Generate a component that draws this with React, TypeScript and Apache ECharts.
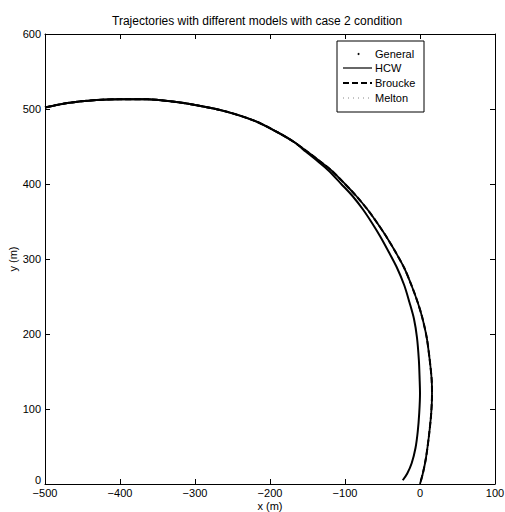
import React, { useEffect, useRef } from "react";
import * as echarts from "echarts";

// Shared upper-left arc (identical for all models), x increasing
const commonArc: [number, number][] = [
  [-500, 502], [-470, 508], [-431, 512], [-400, 513], [-364, 513], [-330, 510],
  [-298, 505], [-260, 497], [-220, 484], [-190, 469], [-168, 456],
];

// HCW trajectory (inner curve) lower part
const hcwTail: [number, number][] = [
  [-152, 443], [-136, 430], [-122, 418], [-105, 400], [-90, 384], [-76, 366],
  [-64, 348], [-53, 330], [-42, 310], [-31, 289], [-21, 265], [-14, 242],
  [-8, 220], [-4, 195], [-1.5, 165], [-0.5, 140], [0, 121], [-1, 95], [-3, 70],
  [-6, 48], [-11, 28], [-17, 14], [-23, 5],
];

// General / Broucke / Melton trajectory (outer curve) lower part
const generalTail: [number, number][] = [
  [-150, 443], [-133, 430], [-118, 418], [-100, 400], [-85, 384], [-70, 366],
  [-57, 348], [-45, 330], [-33, 310], [-21, 288], [-11, 264], [-3, 242],
  [3, 222], [9, 195], [13, 165], [15.5, 140], [16, 121], [15, 95], [12, 65],
  [8, 35], [4, 15], [0, 0],
];

const hcwData = [...commonArc, ...hcwTail];
const generalData = [...commonArc, ...generalTail];
const brouckeData = [...commonArc, ...generalTail];
const meltonData = [...commonArc, ...generalTail];

const legendNames = ["General", "HCW", "Broucke", "Melton"];

const FONT = "'Liberation Sans', Arial, Helvetica, sans-serif";

export default function App() {
  const ref = useRef<HTMLDivElement>(null);
  useEffect(() => {
    document.body.style.margin = "0";
    if (!ref.current) return;
    const chart = echarts.init(ref.current, null, { renderer: "svg" });
    const fmt = (v: number) => (v < 0 ? "\u2212" + Math.abs(v) : String(v));
    const axisCommon = {
      axisLine: { show: true, onZero: false, lineStyle: { color: "#000", width: 1 } },
      axisTick: { show: true, inside: true, length: 5, lineStyle: { color: "#000" } },
      splitLine: { show: false },
    };
    const legX = 337, legY = 41, legW = 87, legH = 71;
    const rowY = [54, 68, 83, 98];
    const lineX1 = 343, lineX2 = 372, textX = 375;
    const legendGraphics: any[] = [
      { type: "rect", shape: { x: legX, y: legY, width: legW, height: legH }, style: { fill: "#fff", stroke: "#000", lineWidth: 1 }, z: 100 },
      { type: "circle", shape: { cx: (lineX1 + lineX2) / 2 + 1, cy: rowY[0], r: 1 }, style: { fill: "#000" }, z: 101 },
      { type: "line", shape: { x1: lineX1, y1: rowY[1], x2: lineX2, y2: rowY[1] }, style: { stroke: "#000", lineWidth: 1.2 }, z: 101 },
      { type: "line", shape: { x1: lineX1, y1: rowY[2], x2: lineX2, y2: rowY[2] }, style: { stroke: "#000", lineWidth: 2, lineDash: [6, 3] }, z: 101 },
      { type: "line", shape: { x1: lineX1, y1: rowY[3], x2: lineX2, y2: rowY[3] }, style: { stroke: "#888", lineWidth: 1, lineDash: [1, 4] }, z: 101 },
      ...legendNames.map((n, i) => ({
        type: "text",
        x: textX,
        y: rowY[i],
        style: { text: n, fill: "#000", font: `11px ${FONT}`, textVerticalAlign: "middle", textAlign: "left" },
        z: 101,
      })),
    ];
    chart.setOption({
      animation: false,
      backgroundColor: "#fff",
      title: {
        text: "Trajectories with different models with case 2 condition",
        left: 107,
        top: 10,
        textStyle: { fontSize: 12, fontWeight: "normal", color: "#000", fontFamily: FONT },
      },
      grid: { left: 45, right: 10, top: 34, bottom: 28, outerBoundsMode: "none", containLabel: false },
      xAxis: [
        {
          type: "value", min: -500, max: 100, interval: 100, position: "bottom",
          name: "x (m)", nameLocation: "middle", nameGap: 16, nameMoveOverlap: false,
          nameTextStyle: { fontSize: 11, color: "#000", fontFamily: FONT, verticalAlign: "top" },
          axisLabel: { formatter: fmt, fontSize: 11, color: "#000", fontFamily: FONT, margin: 3 },
          ...axisCommon,
        },
        {
          type: "value", min: -500, max: 100, interval: 100, position: "top",
          axisLabel: { show: false },
          ...axisCommon,
        },
      ],
      yAxis: [
        {
          type: "value", min: 0, max: 600, interval: 100, position: "left",
          name: "y (m)", nameLocation: "middle", nameGap: 27, nameMoveOverlap: false,
          nameTextStyle: { fontSize: 11, color: "#000", fontFamily: FONT },
          axisLabel: {
            formatter: (v: number) => (v === 0 ? "{z|0}" : String(v)),
            rich: { z: { fontSize: 11, color: "#000", fontFamily: FONT, padding: [0, 0, 8, 0] } },
            fontSize: 11, color: "#000", fontFamily: FONT, margin: 4,
          },
          ...axisCommon,
        },
        {
          type: "value", min: 0, max: 600, interval: 100, position: "right",
          axisLabel: { show: false },
          ...axisCommon,
        },
      ],
      series: [
        { name: "General", type: "line", data: generalData, showSymbol: false, smooth: 0.3, lineStyle: { color: "#000", width: 1.8 } },
        { name: "HCW", type: "line", data: hcwData, showSymbol: false, smooth: 0.3, lineStyle: { color: "#000", width: 2 } },
        { name: "Broucke", type: "line", data: brouckeData, showSymbol: false, smooth: 0.3, lineStyle: { color: "#000", width: 2, type: [6, 3] } },
        { name: "Melton", type: "line", data: meltonData, showSymbol: false, smooth: 0.3, lineStyle: { color: "#000", width: 1, type: "dotted" } },
      ],
      graphic: legendGraphics,
    });
    return () => chart.dispose();
  }, []);
  return <div ref={ref} style={{ width: 505, height: 512 }} />;
}
